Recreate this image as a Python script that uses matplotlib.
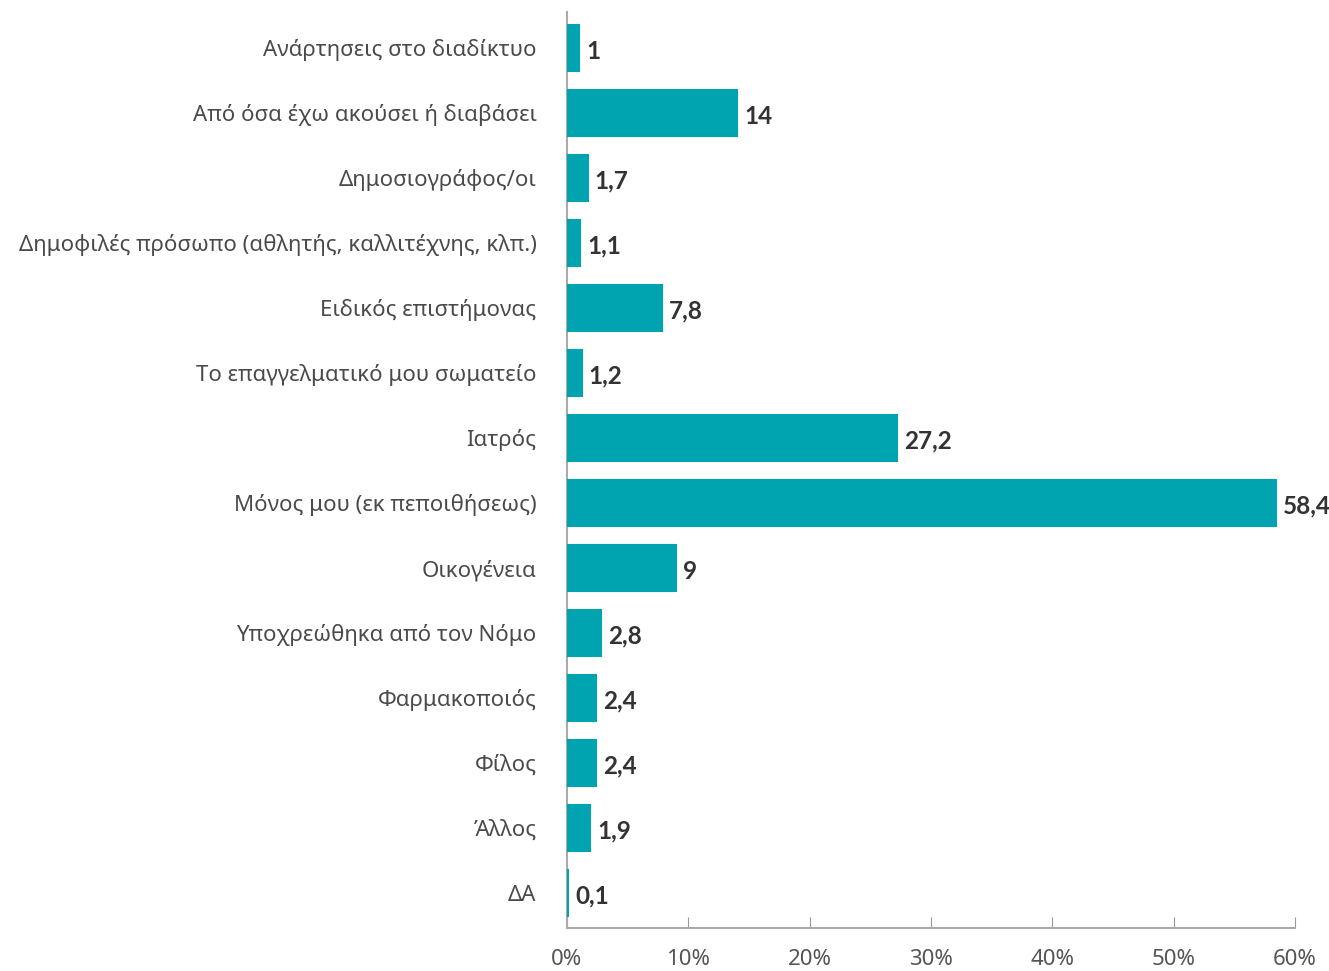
import matplotlib.pyplot as plt

categories = [
    "Ανάρτησεις στο διαδίκτυο",
    "Από όσα έχω ακούσει ή διαβάσει",
    "Δημοσιογράφος/οι",
    "Δημοφιλές πρόσωπο (αθλητής, καλλιτέχνης, κλπ.)",
    "Ειδικός επιστήμονας",
    "Το επαγγελματικό μου σωματείο",
    "Ιατρός",
    "Μόνος μου (εκ πεποιθήσεως)",
    "Οικογένεια",
    "Υποχρεώθηκα από τον Νόμο",
    "Φαρμακοποιός",
    "Φίλος",
    "Άλλος",
    "ΔΑ",
]
values = [1, 14, 1.7, 1.1, 7.8, 1.2, 27.2, 58.4, 9, 2.8, 2.4, 2.4, 1.9, 0.1]
value_labels = ["1", "14", "1,7", "1,1", "7,8", "1,2", "27,2", "58,4", "9", "2,8", "2,4", "2,4", "1,9", "0,1"]
x_ticks = [0, 10, 20, 30, 40, 50, 60]

plt.rcParams["font.family"] = ["Noto Sans", "DejaVu Sans"]

fig = plt.figure(figsize=(13.29, 9.71), dpi=100)
ax = fig.add_axes([0.4266, 0.0443, 0.5478, 0.9433])

ypos = list(range(len(categories)))
ax.barh(ypos, values, height=0.7, color="#00A4B1",
        edgecolor="#00A4B1", linewidth=1.5, zorder=3)

for y, v, lab in zip(ypos, values, value_labels):
    ax.text(v + 0.6, y + 0.05, lab, va="center", ha="left", family="Lato",
            fontsize=17.5, fontweight="bold", color="#333333")

ax.set_xlim(0, 60)
ax.set_ylim(13.54, -0.55)
ax.set_yticks(ypos)
ax.set_yticklabels(categories, fontsize=16, color="#4a4a4a")
ax.tick_params(axis="y", length=0, pad=22)

ax.set_xticks(x_ticks)
ax.set_xticklabels([f"{t}%" for t in x_ticks], fontsize=16, color="#555555")
ax.tick_params(axis="x", direction="in", length=8, color="#999999", pad=15)

for s in ["top", "right"]:
    ax.spines[s].set_visible(False)
ax.spines["left"].set_color("#aaaaaa")
ax.spines["bottom"].set_color("#aaaaaa")
ax.spines["left"].set_linewidth(1.5)
ax.spines["bottom"].set_linewidth(1.5)

fig.savefig("out.png", dpi=100)
